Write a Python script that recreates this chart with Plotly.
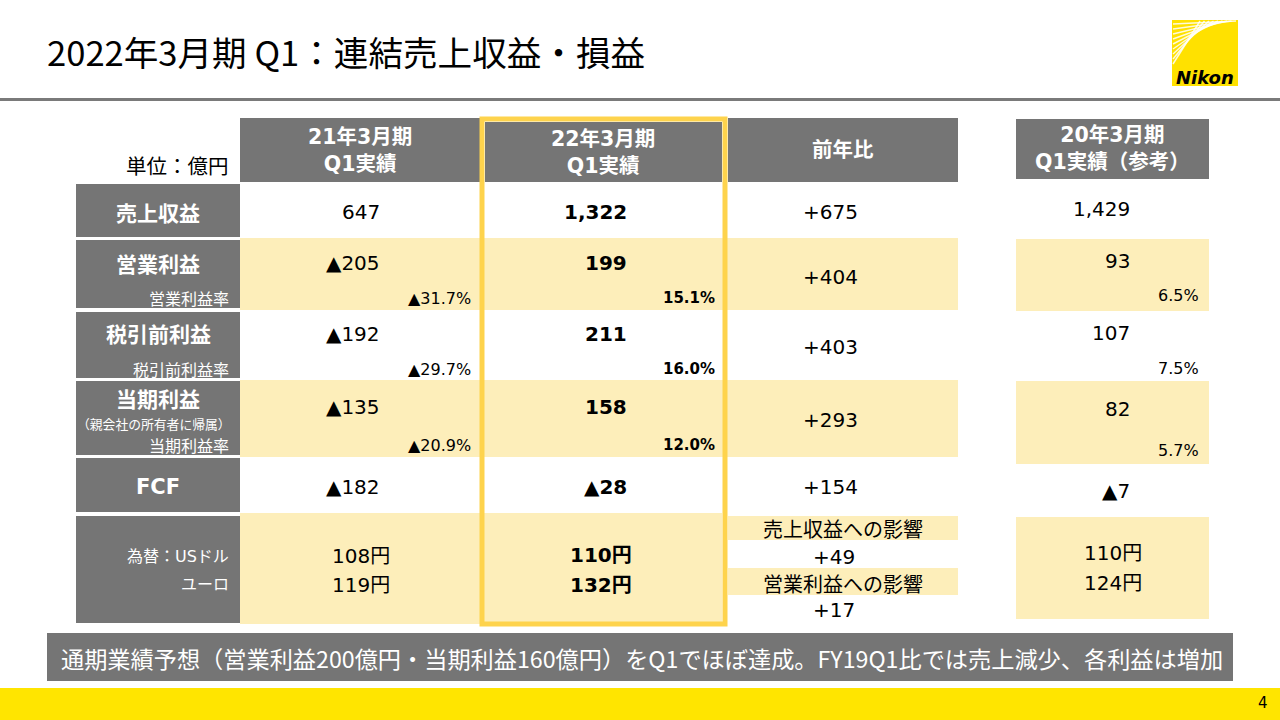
import plotly.graph_objects as go

# ---------------- data ----------------
title_text = "2022年3月期 Q1：連結売上収益・損益"
unit_label = "単位：億円"
headers = ["21年3月期<br>Q1実績", "22年3月期<br>Q1実績", "前年比", "20年3月期<br>Q1実績（参考）"]
metrics = ["売上収益", "営業利益", "税引前利益", "当期利益", "FCF"]
rate_labels = [None, "営業利益率", "税引前利益率", "当期利益率", None]
owner_note = "（親会社の所有者に帰属）"

fy21_values = [647, -205, -192, -135, -182]
fy21_rates = [None, -31.7, -29.7, -20.9, None]
fy22_values = [1322, 199, 211, 158, -28]
fy22_rates = [None, 15.1, 16.0, 12.0, None]
yoy_values = [675, 404, 403, 293, 154]
fy20_values = [1429, 93, 107, 82, -7]
fy20_rates = [None, 6.5, 7.5, 5.7, None]

fx_labels = ["為替：USドル", "ユーロ"]
fx21 = [108, 119]
fx22 = [110, 132]
fx20 = [110, 124]
fx_impact_labels = ["売上収益への影響", "営業利益への影響"]
fx_impact = [49, 17]

footer_note = "通期業績予想（営業利益200億円・当期利益160億円）をQ1でほぼ達成。FY19Q1比では売上減少、各利益は増加"
page_no = "4"

# ---------------- styles / layout ----------------
GRAY = "#757575"
LY = "#FDEEBA"
BORDER = "#FED34C"
BRIGHT = "#FFE500"
NUMF = "DejaVu Sans, Noto Sans CJK JP"
JPF = "Noto Sans CJK JP, DejaVu Sans"


def fmt_num(v):
    s = f"{abs(v):,}"
    return ("▲" + s) if v < 0 else s


def fmt_rate(v):
    s = f"{abs(v):.1f}%"
    return ("▲" + s) if v < 0 else s


def fmt_signed(v):
    return ("+" if v >= 0 else "▲") + f"{abs(v):,}"


fig = go.Figure()
shapes = []
ann = []


def rect(x0, y0, x1, y1, color, line=None, lw=0):
    d = dict(type="rect", xref="x", yref="y", x0=x0, y0=y0, x1=x1, y1=y1,
             fillcolor=color if color else "rgba(0,0,0,0)", layer="below",
             line=dict(width=lw, color=line or "rgba(0,0,0,0)"))
    shapes.append(d)


def text(x, y, s, size, color="#000000", bold=False, anchor="center", family=NUMF):
    ann.append(dict(x=x, y=y, xref="x", yref="y", text=(f"<b>{s}</b>" if bold else s),
                    showarrow=False, xanchor=anchor, yanchor="middle",
                    font=dict(size=size, color=color, family=family)))


# header rule + title + logo
shapes.append(dict(type="line", xref="x", yref="y", x0=0, x1=1280, y0=99.5, y1=99.5,
                   line=dict(color="#7a7a7a", width=3)))
text(45, 51, title_text, 34.6, family=JPF, anchor="left")
rect(1172, 20, 1238, 86, "#FFE100")
for k in range(9):
    shapes.append(dict(type="line", xref="x", yref="y",
                       x0=1173, y0=64 - k * 5, x1=1200 + k * 4.5, y1=21,
                       line=dict(color="rgba(255,255,255,0.85)", width=1.5)))
text(1205, 77, "<i>Nikon</i>", 18, bold=True, family="DejaVu Sans")

# row geometry
row_bands = [(182, 238), (238, 310), (310, 380), (380, 457), (457, 513), (513, 624)]
label_cells = [(184, 237), (240, 308), (312, 378), (381, 455), (458, 512), (516, 623)]

# headers
rect(240, 118, 480, 182, GRAY)
rect(485, 122, 722, 182, GRAY)
rect(728, 118, 958, 182, GRAY)
rect(1016, 119, 1209, 179, GRAY)
text(360, 150, headers[0], 20.5, "#ffffff", True)
text(603, 152, headers[1], 20.5, "#ffffff", True)
text(843, 150, headers[2], 20.5, "#ffffff", True)
text(1112, 148, headers[3], 20.5, "#ffffff", True)
text(231, 165, unit_label, 20.5, family=JPF, anchor="right")

# row bands
for i, (y0, y1) in enumerate(row_bands):
    if i % 2 == 1:
        if i == 5:
            rect(240, y0, 722, y1, LY)
        else:
            rect(240, y0, 958, y1, LY)
# col4 yellow
for (y0, y1) in [(239, 311), (381, 464), (517, 619)]:
    rect(1016, y0, 1209, y1, LY)
# col3 fx bands
rect(728, 516, 958, 540, LY)
rect(728, 568, 958, 595, LY)

# label cells
for (y0, y1) in label_cells:
    rect(76, y0, 240, y1, GRAY)

# label texts
main_y = [212, 263, 334, 407, 487]
label_y = [212, 263, 333, 398, 487]
rate_y = [None, 298, 369, 445, None]
for i, m in enumerate(metrics):
    text(158, label_y[i], m, 21, "#ffffff", True, family=JPF if m != "FCF" else NUMF)
    if rate_labels[i]:
        text(231, rate_y[i], rate_labels[i], 16, "#ffffff", family=JPF, anchor="right")
text(233, 423, owner_note, 12.8, "#ffffff", family=JPF, anchor="right")

# values
col3_y = [212, 277, 347, 420, 487]
col4_y = [209, 261, 333, 409, 491]
col4_rate_y = [None, 295, 368, 450, None]
for i in range(len(metrics)):
    text(382, main_y[i], fmt_num(fy21_values[i]), 20, anchor="right")
    text(629, main_y[i], fmt_num(fy22_values[i]), 20, bold=True, anchor="right")
    text(860, col3_y[i], fmt_signed(yoy_values[i]), 20, anchor="right")
    text(1132, col4_y[i], fmt_num(fy20_values[i]), 20, anchor="right")
    if fy21_rates[i] is not None:
        text(473, rate_y[i], fmt_rate(fy21_rates[i]), 16, anchor="right")
        text(717, rate_y[i], fmt_rate(fy22_rates[i]), 15, bold=True, anchor="right")
        text(1201, col4_rate_y[i], fmt_rate(fy20_rates[i]), 16, anchor="right")

# FX row
fx_y = [556, 585]
fx4_y = [553, 583]
for j in range(2):
    text(231, fx_y[j] - (1 if j else 0), fx_labels[j], 16, "#ffffff", family=NUMF, anchor="right")
    text(361, fx_y[j], f"{fx21[j]}円", 20)
    text(601, fx_y[j] - (1 if j == 0 else 0), f"{fx22[j]}円", 20, bold=True)
    text(1113, fx4_y[j], f"{fx20[j]}円", 20)
impact_label_y = [528, 583]
impact_y = [557, 610]
for j in range(2):
    text(843, impact_label_y[j], fx_impact_labels[j], 20, family=JPF)
    text(857, impact_y[j], fmt_signed(fx_impact[j]), 20, anchor="right")

# highlight border around current-year column
shapes.append(dict(type="rect", xref="x", yref="y", x0=482, y0=119, x1=725, y1=624,
                   fillcolor="rgba(0,0,0,0)", layer="above",
                   line=dict(color=BORDER, width=5)))

# bottom banner & footer
rect(47, 633, 1233, 681, GRAY)
text(642, 658, footer_note, 23.2, "#ffffff", family=JPF)
rect(0, 688, 1280, 720, BRIGHT)
text(1263, 703, page_no, 15, family=NUMF)

fig.add_trace(go.Scatter(x=[0], y=[0], mode="markers", marker=dict(opacity=0),
                         hoverinfo="skip", showlegend=False))
fig.update_layout(
    width=1280, height=720, margin=dict(l=0, r=0, t=0, b=0),
    paper_bgcolor="#ffffff", plot_bgcolor="#ffffff",
    xaxis=dict(range=[0, 1280], visible=False, fixedrange=True),
    yaxis=dict(range=[720, 0], visible=False, fixedrange=True),
    shapes=shapes, annotations=ann, showlegend=False,
)
fig.write_html(
    "out.html",
    config={"displayModeBar": False},
    post_script="document.body.style.margin='0';document.body.style.overflow='hidden';",
)
